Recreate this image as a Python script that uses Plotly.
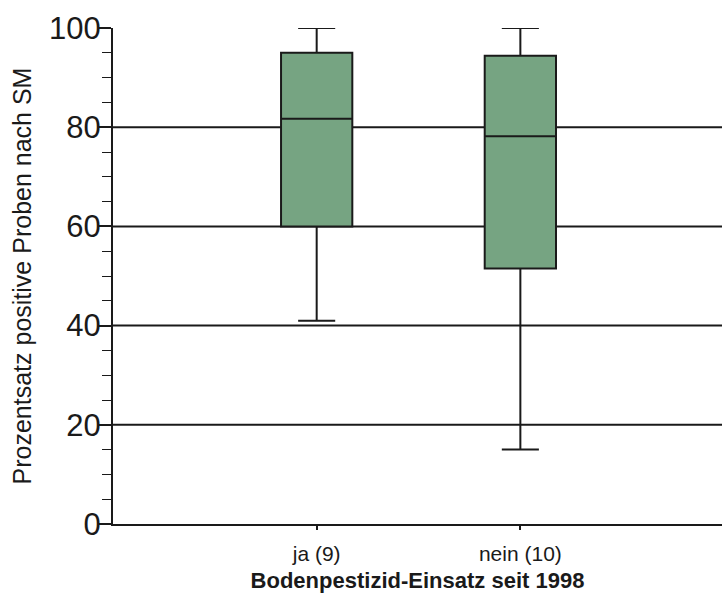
import plotly.graph_objects as go

categories = ["ja (9)", "nein (10)"]
q1 = [60, 51.5]
median = [81.7, 78.2]
q3 = [95.0, 94.4]
lowerfence = [41, 15]
upperfence = [100, 100]
grid_values = [20, 40, 60, 80]
y_ticks = [0, 20, 40, 60, 80, 100]

FONT = "Arial, Liberation Sans, sans-serif"

fig = go.Figure()
fig.add_trace(go.Box(
    x=categories,
    q1=q1, median=median, q3=q3,
    lowerfence=lowerfence, upperfence=upperfence,
    fillcolor="#76a482",
    line=dict(color="#1a1a1a", width=2),
    whiskerwidth=0.52,
    width=0.35,
    boxpoints=False,
    showlegend=False,
    hoverinfo="skip",
))

for gv in grid_values:
    fig.add_shape(type="line", xref="paper", x0=0, x1=1, yref="y", y0=gv, y1=gv,
                  line=dict(color="#1a1a1a", width=2), layer="below")

fig.update_layout(
    width=722, height=593,
    margin=dict(l=113, r=0, t=28, b=69),
    paper_bgcolor="white", plot_bgcolor="white",
    font=dict(family=FONT, color="#1a1a1a"),
    xaxis=dict(
        type="category",
        range=[-1, 1.99],
        showline=True, linecolor="#1a1a1a", linewidth=2,
        ticks="outside", ticklen=4, tickwidth=2, tickcolor="#1a1a1a",
        tickfont=dict(size=21),
        ticklabelstandoff=6,
        showgrid=False, zeroline=False,
        title=dict(text="<b>Bodenpestizid-Einsatz seit 1998</b>", font=dict(size=22), standoff=9),
    ),
    yaxis=dict(
        range=[0, 100],
        tickvals=y_ticks,
        showline=True, linecolor="#1a1a1a", linewidth=2,
        ticks="outside", ticklen=12, tickwidth=1.5, tickcolor="#1a1a1a",
        minor=dict(dtick=5, ticks="outside", ticklen=9, tickwidth=1, tickcolor="#1a1a1a", showgrid=False),
        tickfont=dict(size=31),
        ticklabelstandoff=-8,
        showgrid=False, zeroline=False,
        title=dict(text="Prozentsatz positive Proben nach SM", font=dict(size=25), standoff=10),
    ),
)

fig.write_html("out.html")
